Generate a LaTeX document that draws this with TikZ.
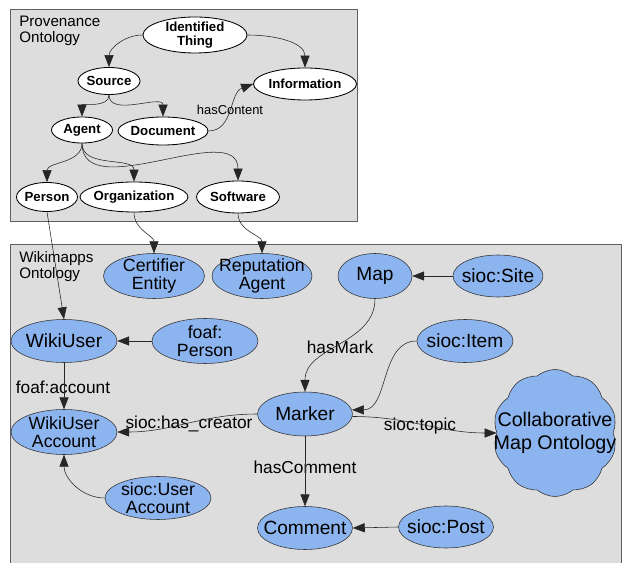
\documentclass[tikz,border=0pt]{standalone}
\usepackage{fontspec}
\setmainfont{Liberation Sans}
\usetikzlibrary{shapes.geometric,shapes.symbols,arrows.meta}

\definecolor{boxgray}{RGB}{221,221,221}
\definecolor{boxline}{RGB}{95,95,95}
\definecolor{nodeblue}{RGB}{140,180,238}

\tikzset{
	ovalsize/.style 2 args={minimum width=#1*0.025cm, minimum height=#2*0.025cm},
	prov/.style={ellipse, draw=black, semithick, fill=white, inner xsep=-4pt, inner ysep=-1pt, align=center,
		font=\bfseries\fontsize{9.4}{10}\selectfont},
	wiki/.style={ellipse, draw=black!80, fill=nodeblue, inner xsep=-6pt, inner ysep=-2pt, align=center,
		font=\fontsize{13.6}{14}\selectfont},
	twoline/.style={font=\fontsize{12.6}{13}\selectfont},
	link/.style={-{Triangle[length=8.5pt,width=6.5pt]}, draw=black!85},
	lbl/.style={inner sep=0pt, font=\fontsize{12.3}{13}\selectfont},
	boxtitle/.style={inner sep=0pt, anchor=north west, align=left, font=\fontsize{10.8}{11.4}\selectfont}
}

\begin{document}
\begin{tikzpicture}[x=0.025cm, y=-0.025cm]
	\useasboundingbox (0,0) rectangle (624,563);

	% the two ontology boxes
	\draw[boxline, fill=boxgray] (10,9) rectangle (357,221);
	\fill[boxgray] (10,244) rectangle (621,563);
	\draw[boxline] (10,563) -- (10,244) -- (621,244) -- (621,563);
	\node[boxtitle] (provtitle) at (19,16) {Provenance\\Ontology};
	\node[boxtitle] (wikititle) at (19,251) {Wikimapps\\Ontology};

	% provenance ontology
	\node[prov, ovalsize={104}{36}] (ident) at (195,35) {Identified\\Thing};
	\node[prov, ovalsize={62}{27}] (source) at (109,81) {Source};
	\node[prov, ovalsize={103}{32}] (info) at (305,84) {Information};
	\node[prov, ovalsize={61}{26}] (agent) at (82,130) {Agent};
	\node[prov, ovalsize={90}{28}] (docu) at (163,131) {Document};
	\node[prov, ovalsize={61}{29}] (person) at (47,197) {Person};
	\node[prov, ovalsize={108}{30}] (org) at (134,197) {Organization};
	\node[prov, ovalsize={83}{32}] (soft) at (238,197) {Software};

	% wikimapps ontology
	\node[wiki, twoline, ovalsize={101}{45}] (cert) at (154,276) {Certifier\\Entity};
	\node[wiki, twoline, ovalsize={100}{45}] (repu) at (262,276) {Reputation\\Agent};
	\node[wiki, ovalsize={74}{45}] (map) at (375,276) {Map};
	\node[wiki, ovalsize={90}{42}] (site) at (498,276) {sioc:Site};
	\node[wiki, ovalsize={106}{43}] (wikiuser) at (64,341) {WikiUser};
	\node[wiki, twoline, ovalsize={106}{45}] (foafperson) at (205,341) {foaf:\\Person};
	\node[wiki, ovalsize={96}{43}] (item) at (465,341) {sioc:Item};
	\node[wiki, twoline, ovalsize={106}{45}] (account) at (64,432) {WikiUser\\Account};
	\node[wiki, ovalsize={95}{44}] (marker) at (305,414) {Marker};
	\node[wiki, twoline, ovalsize={106}{43}] (useracc) at (158,498) {sioc:User\\Account};
	\node[wiki, ovalsize={95}{43}] (comment) at (305,528) {Comment};
	\node[wiki, ovalsize={95}{42}] (post) at (446,527) {sioc:Post};
	\node[cloud, cloud puffs=10, cloud puff arc=80, draw=black!80, fill=nodeblue, inner sep=-30pt,
		ovalsize={124}{127}, align=center, font=\fontsize{14}{16}\selectfont] (collab) at (555,433)
		{Collaborative\\Map Ontology};

	% edge labels
	\node[inner sep=0pt, font=\fontsize{9.2}{10}\selectfont] (hascontent) at (230,110) {hasContent};
	\node[lbl] (hasmark) at (340,347) {hasMark};
	\node[lbl] (foafaccount) at (63,387) {foaf:account};
	\node[lbl] (hascreator) at (189,424) {sioc:has\_creator};
	\node[lbl] (sioctopic) at (420,426) {sioc:topic};
	\node[lbl] (hascomment) at (305,467) {hasComment};

	% drawing provenance links
	\draw[link] (ident.west) to[out=180, in=90] (source.north);
	\draw[link] (ident.east) to[out=0, in=90] (info.north);
	\draw[link] (source.south) to[out=-90, in=90] (agent.north);
	\draw[link] (source.south) to[out=-90, in=90] (docu.north);
	\draw[link] (docu.east) to[out=0, in=200] (info.west);
	\draw[link] (agent.south) to[out=-90, in=90] (person.north);
	\draw[link] (agent.south) to[out=-90, in=90] (org.north);
	\draw[link] (agent.south) to[out=-90, in=90] (soft.north);

	% drawing links between the ontologies
	\draw[link] (person.south) -- (wikiuser.north);
	\draw[link] (org.south) to[out=-90, in=90] (cert.north);
	\draw[link] (soft.south) to[out=-90, in=90] (repu.north);

	% drawing wikimapps links
	\draw[link] (foafperson.west) -- (wikiuser.east);
	\draw[link] (site.west) -- (map.east);
	\draw[link] (map.south) to[out=-90, in=90] (marker.north);
	\draw[link] (item.west) to[out=180, in=0] (marker.5);
	\draw[link] (marker.-3) to[out=0, in=180] (collab.west);
	\draw[link] (marker.west) to[out=180, in=0] (account.east);
	\draw[link] (wikiuser.south) -- (account.north);
	\draw[link] (marker.south) -- (comment.north);
	\draw[link] (post.west) -- (comment.east);
	\draw[link] (useracc.west) to[out=180, in=-90] (account.south);
\end{tikzpicture}
\end{document}
